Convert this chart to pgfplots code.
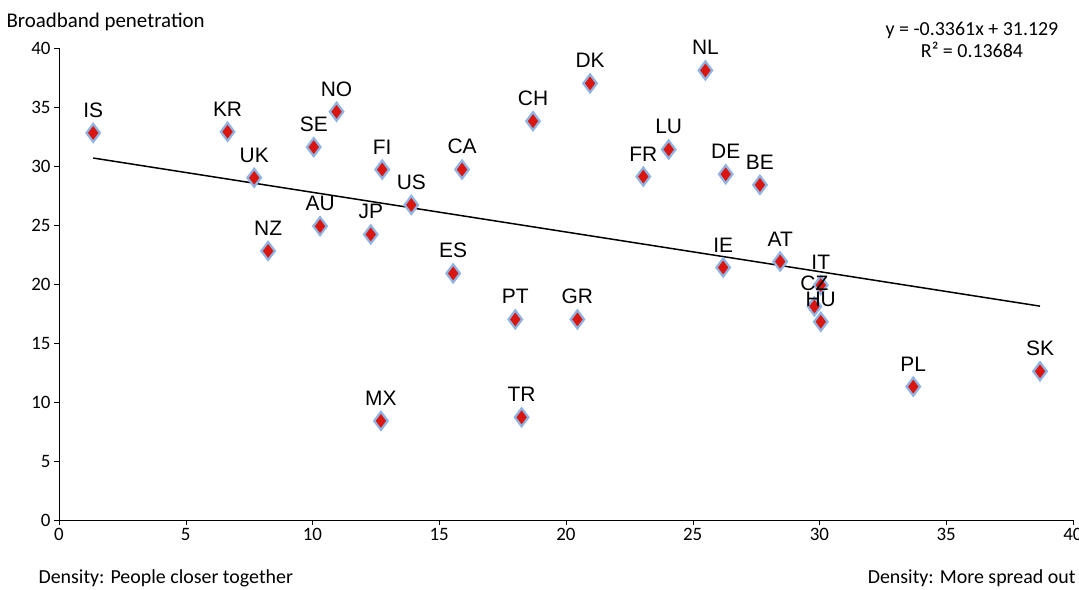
\documentclass[border=0pt]{standalone}
\usepackage{pgfplots}
\pgfplotsset{compat=1.18}
\usepackage{fontspec}
\setmainfont{Carlito}
\newfontfamily\arial{Liberation Sans}
\definecolor{mk}{HTML}{D9160F}
\definecolor{mb}{HTML}{8EB4E3}
\pgfplotstableread{
x y lab
1.35 32.8 IS
6.65 32.9 KR
7.7 29.0 UK
8.25 22.8 NZ
10.05 31.6 SE
10.95 34.6 NO
10.3 24.9 AU
12.3 24.2 JP
12.75 29.7 FI
13.9 26.7 US
12.7 8.4 MX
15.9 29.7 CA
15.55 20.9 ES
18.7 33.8 CH
18.0 17.0 PT
18.25 8.7 TR
20.45 17.0 GR
20.95 37.0 DK
23.05 29.1 FR
24.05 31.4 LU
25.5 38.1 NL
26.3 29.3 DE
26.2 21.4 IE
27.65 28.4 BE
28.45 21.9 AT
30.05 19.9 IT
29.8 18.1 CZ
30.05 16.8 HU
33.7 11.3 PL
38.7 12.6 SK
}\data
\begin{document}
\begin{tikzpicture}[x=1bp,y=1bp]
\useasboundingbox (0,0) rectangle (1079,590);
\begin{axis}[at={(59bp,70bp)},anchor=south west,scale only axis,
 width=1014bp,height=472bp,
 xmin=0,xmax=40,ymin=0,ymax=40,
 xtick={0,5,...,40},ytick={0,5,...,40},
 axis x line*=bottom, axis y line*=left,
 tick style={black}, tick align=outside, major tick length=5bp,
 tick label style={font=\fontsize{19}{19}\selectfont},
 /pgf/number format/assume math mode=true,
 clip=false]
\addplot[only marks, mark=diamond*, mark size=9bp,
 mark options={fill=mk, draw=mb, line width=2.2bp},
 nodes near coords, point meta=explicit symbolic,
 every node near coord/.style={font=\arial\fontsize{21}{21}\selectfont, anchor=south, yshift=11bp}]
 table[x=x,y=y,meta=lab]{\data};
\addplot[black, line width=1.5bp] coordinates {(1.35,30.675) (38.7,18.122)};
\end{axis}
\node[anchor=west,font=\fontsize{21}{21}\selectfont] at (3,568) {Broadband penetration};
\node[align=center,font=\fontsize{20}{22}\selectfont] at (972,550) {y = -0.3361x + 31.129\\R² = 0.13684};
\node[anchor=west,font=\fontsize{20}{20}\selectfont] at (35,12) {Density: People closer together};
\node[anchor=east,font=\fontsize{20}{20}\selectfont] at (1079,12) {Density: More spread out};
\end{tikzpicture}
\end{document}
